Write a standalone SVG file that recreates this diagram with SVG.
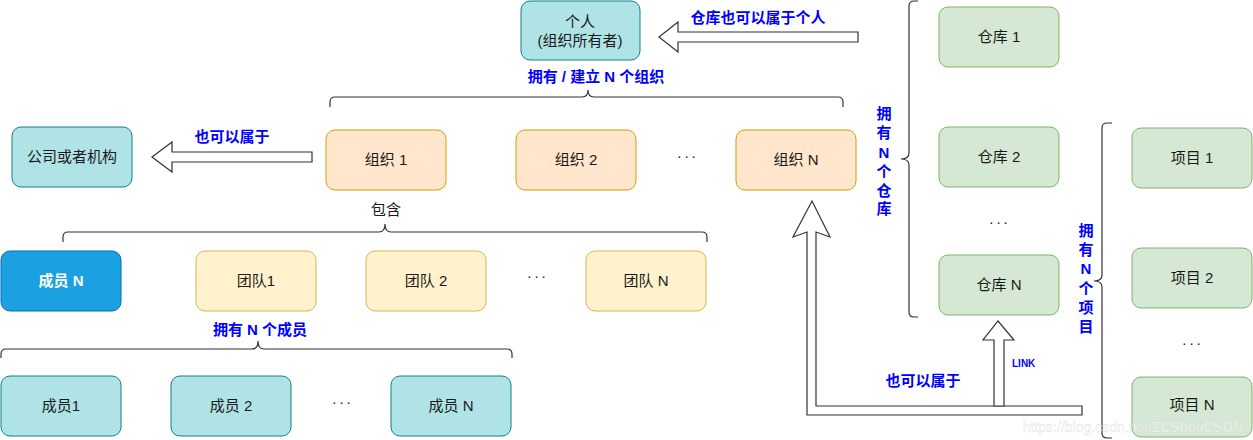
<svg xmlns="http://www.w3.org/2000/svg" width="1253" height="440" viewBox="0 0 1253 440">
<style>
text{font-family:"Liberation Sans","Noto Sans CJK SC",sans-serif;}
.t{font-size:15px;fill:#1a1a1a;text-anchor:middle;}
.w{font-size:15px;fill:#ffffff;font-weight:bold;text-anchor:middle;}
.b{font-size:15px;fill:#0000ff;font-weight:bold;text-anchor:middle;}
.teal{fill:#b0e3e6;stroke:#0e8088;stroke-width:1;}
.org{fill:#ffe6cc;stroke:#d79b00;stroke-width:1;}
.team{fill:#fff2cc;stroke:#d6b656;stroke-width:1;}
.blue{fill:#1ba1e2;stroke:#006eaf;stroke-width:1;}
.green{fill:#d5e8d4;stroke:#82b366;stroke-width:1;}
.brace{fill:none;stroke:#333333;stroke-width:1.2;}
.arrow{fill:#ffffff;stroke:#333333;stroke-width:1.2;stroke-linejoin:miter;}
.dots{font-size:15px;fill:#1a1a1a;text-anchor:middle;letter-spacing:3px;}
</style>
<rect width="1253" height="440" fill="#ffffff"/>

<g id="connectors">
  <path class="brace" d="M330,107 V102 Q330,97 335,97 H582 Q588,97 588,90 Q588,97 594,97 H838 Q843,97 843,102 V107"/>
  <path class="brace" d="M63,242 V237 Q63,232 68,232 H379 Q385,232 385,224 Q385,232 391,232 H702 Q707,232 707,237 V242"/>
  <path class="brace" d="M1,358 V354 Q1,349 6,349 H252 Q258,349 258,341 Q258,349 264,349 H507 Q512,349 512,354 V358"/>
  <path class="brace" d="M918,1 H914 Q909,1 909,6 V153 Q909,159 901,159 Q909,159 909,165 V312 Q909,317 914,317 H918"/>
  <path class="brace" d="M1112,123 H1107 Q1102,123 1102,128 V275 Q1102,281 1094,281 Q1102,281 1102,287 V433 Q1102,438 1107,438 H1112"/>
  <polygon class="arrow" points="659,37 678,22 678,32 858,32 858,42 678,42 678,52"/>
  <polygon class="arrow" points="152,157 172,142 172,152 312,152 312,162 172,162 172,172"/>
  <polygon class="arrow" points="807,415 807,232 793,237 812,201 830,237 816,232 816,406 1082,406 1082,415"/>
  <polygon class="arrow" points="994,406 994,340 983,340 998,321 1014,340 1004,340 1004,406"/>
  <text class="b" x="758" y="23">仓库也可以属于个人</text>
  <text class="b" x="232" y="142">也可以属于</text>
  <text class="b" x="596" y="82">拥有 / 建立 N 个组织</text>
  <text class="t" x="386" y="215">包含</text>
  <text class="b" x="260" y="335">拥有 N 个成员</text>
  <text class="b" x="923" y="386">也可以属于</text>
  <text x="1012" y="367" style="font-size:10px;fill:#0000ff;font-weight:bold;">LINK</text>
  <g class="b">
    <text x="884" y="119">拥</text>
    <text x="884" y="138">有</text>
    <text x="884" y="158">N</text>
    <text x="884" y="177">个</text>
    <text x="884" y="196">仓</text>
    <text x="884" y="214">库</text>
  </g>
  <g class="b">
    <text x="1086" y="236">拥</text>
    <text x="1086" y="255">有</text>
    <text x="1086" y="274">N</text>
    <text x="1086" y="294">个</text>
    <text x="1086" y="313">项</text>
    <text x="1086" y="332">目</text>
  </g>
</g>

<g id="person"><rect class="teal" x="521" y="1" width="119" height="59" rx="9"/><text class="t" x="580" y="27">个人</text><text class="t" x="580" y="46">(组织所有者)</text></g>
<g id="company"><rect class="teal" x="12" y="127" width="120" height="60" rx="9"/><text class="t" x="72" y="162">公司或者机构</text></g>

<g id="org1"><rect class="org" x="326" y="130" width="120" height="60" rx="9"/><text class="t" x="386" y="165">组织 1</text></g>
<g id="org2"><rect class="org" x="516" y="130" width="120" height="60" rx="9"/><text class="t" x="576" y="165">组织 2</text></g>
<g id="orgdots"><text class="dots" x="688" y="158">...</text></g>
<g id="orgN"><rect class="org" x="736" y="130" width="120" height="60" rx="9"/><text class="t" x="796" y="165">组织 N</text></g>

<g id="memberN-top"><rect class="blue" x="1" y="251" width="120" height="60" rx="9"/><text class="w" x="61" y="286">成员 N</text></g>
<g id="team1"><rect class="team" x="196" y="251" width="120" height="60" rx="9"/><text class="t" x="256" y="286">团队1</text></g>
<g id="team2"><rect class="team" x="366" y="251" width="120" height="60" rx="9"/><text class="t" x="426" y="286">团队 2</text></g>
<g id="teamdots"><text class="dots" x="538" y="278">...</text></g>
<g id="teamN"><rect class="team" x="586" y="251" width="120" height="60" rx="9"/><text class="t" x="646" y="286">团队 N</text></g>

<g id="member1"><rect class="teal" x="1" y="376" width="120" height="60" rx="9"/><text class="t" x="61" y="411">成员1</text></g>
<g id="member2"><rect class="teal" x="171" y="376" width="120" height="60" rx="9"/><text class="t" x="231" y="411">成员 2</text></g>
<g id="memberdots"><text class="dots" x="343" y="404">...</text></g>
<g id="memberN"><rect class="teal" x="391" y="376" width="120" height="60" rx="9"/><text class="t" x="451" y="411">成员 N</text></g>

<g id="wh1"><rect class="green" x="939" y="7" width="120" height="60" rx="9"/><text class="t" x="999" y="42">仓库 1</text></g>
<g id="wh2"><rect class="green" x="939" y="127" width="120" height="60" rx="9"/><text class="t" x="999" y="162">仓库 2</text></g>
<g id="whdots"><text class="dots" x="1000" y="224">...</text></g>
<g id="whN"><rect class="green" x="939" y="255" width="120" height="60" rx="9"/><text class="t" x="999" y="290">仓库 N</text></g>

<g id="pj1"><rect class="green" x="1132" y="128" width="120" height="60" rx="9"/><text class="t" x="1192" y="163">项目 1</text></g>
<g id="pj2"><rect class="green" x="1132" y="248" width="120" height="60" rx="9"/><text class="t" x="1192" y="283">项目 2</text></g>
<g id="pjdots"><text class="dots" x="1193" y="345">...</text></g>
<g id="pjN"><rect class="green" x="1132" y="377" width="120" height="60" rx="9"/><text class="t" x="1192" y="410">项目 N</text></g>

<text x="1243" y="432" style="font-size:14px;text-anchor:end;fill:#ffffff;fill-opacity:0.8;stroke:#c8c8c8;stroke-width:0.4;stroke-opacity:0.6;">https://blog.csdn.net/ZCShouCSDN</text>
</svg>
